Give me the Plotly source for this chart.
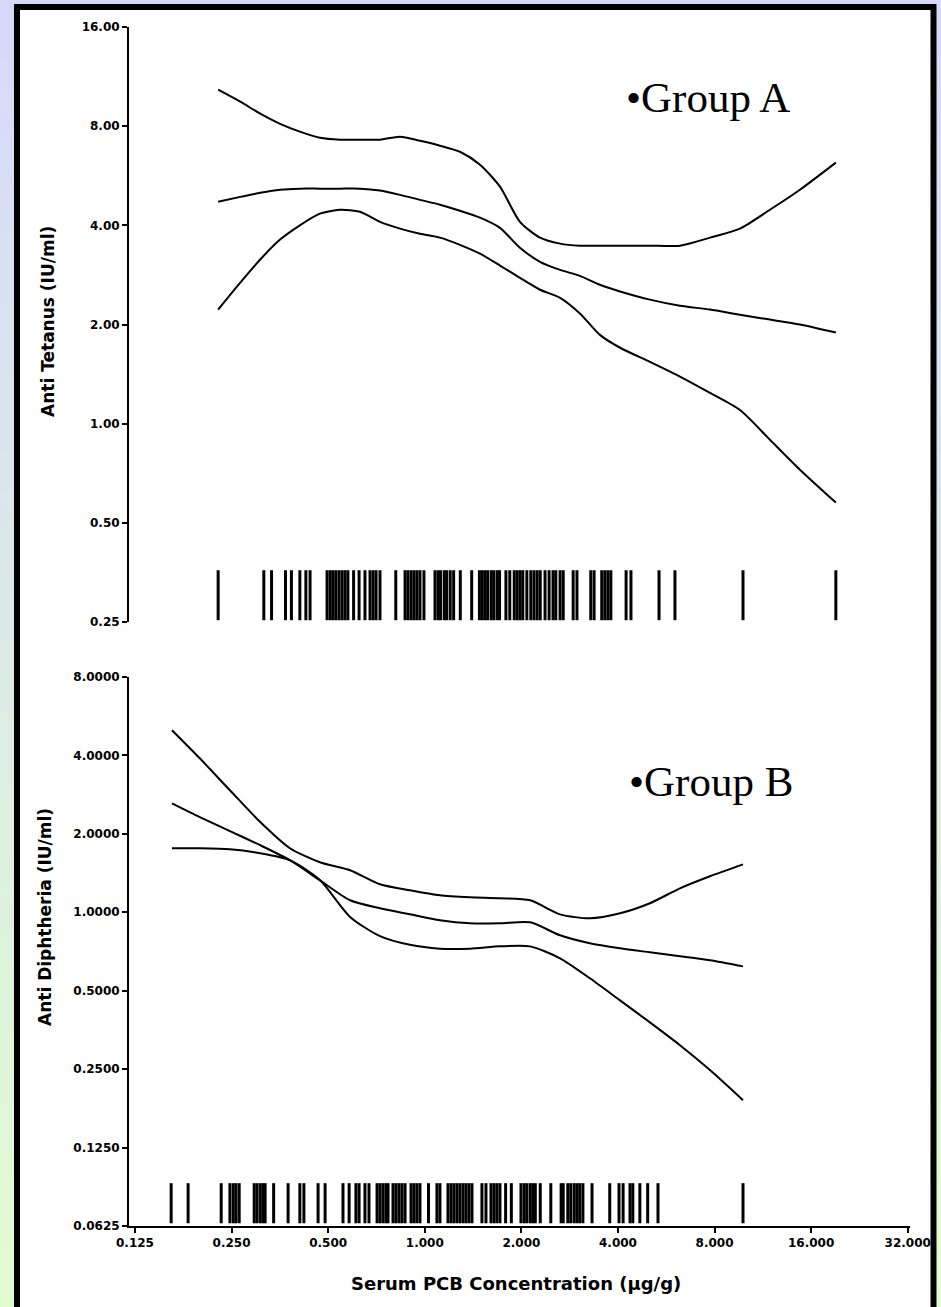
import plotly.graph_objects as go

# ---------------- data ----------------
# Group A (Anti Tetanus) smoothed curve: x = serum PCB (ug/g), y = IU/ml
xA = [0.227, 0.266, 0.307, 0.354, 0.408, 0.471, 0.544, 0.628, 0.725, 0.837, 0.966, 1.115, 1.287, 1.486,
      1.715, 1.979, 2.286, 2.640, 3.044, 3.514, 4.06, 5.03, 6.24, 7.74, 9.60, 11.90, 14.76, 19.1]
upperA = [10.32, 9.49, 8.73, 8.13, 7.70, 7.38, 7.28, 7.28, 7.28, 7.43, 7.22, 6.98, 6.69, 6.11,
          5.24, 4.10, 3.67, 3.52, 3.47, 3.47, 3.47, 3.47, 3.47, 3.67, 3.91, 4.46, 5.13, 6.20]
middleA = [4.72, 4.88, 5.02, 5.13, 5.17, 5.17, 5.17, 5.17, 5.10, 4.95, 4.78, 4.62, 4.43, 4.22,
           3.93, 3.42, 3.10, 2.93, 2.81, 2.64, 2.52, 2.38, 2.28, 2.22, 2.14, 2.07, 2.00, 1.89]
lowerA = [2.22, 2.68, 3.15, 3.62, 4.00, 4.34, 4.46, 4.40, 4.10, 3.91, 3.77, 3.67, 3.49, 3.28,
          3.02, 2.77, 2.55, 2.41, 2.16, 1.86, 1.70, 1.54, 1.39, 1.24, 1.10, 0.894, 0.725, 0.576]

# Group B (Anti Diphtheria)
xB = [0.163, 0.199, 0.247, 0.307, 0.380, 0.471, 0.585, 0.725, 0.899, 1.115, 1.383, 1.715, 2.13, 2.64,
      3.27, 4.06, 5.03, 6.24, 7.74, 9.81]
upperB = [5.00, 3.90, 2.94, 2.22, 1.761, 1.556, 1.450, 1.281, 1.215, 1.162, 1.142, 1.132, 1.112, 0.982,
          0.948, 0.991, 1.083, 1.236, 1.375, 1.528]
middleB = [2.62, 2.32, 2.05, 1.809, 1.584, 1.327, 1.112, 1.036, 0.982, 0.932, 0.907, 0.907, 0.915, 0.816,
           0.760, 0.727, 0.702, 0.678, 0.654, 0.620]
lowerB = [1.761, 1.761, 1.746, 1.685, 1.584, 1.330, 0.960, 0.810, 0.750, 0.725, 0.725, 0.740, 0.740, 0.666,
          0.558, 0.459, 0.378, 0.309, 0.248, 0.190]

# observed serum PCB values (rug)
rugA = [0.227, 0.315, 0.333, 0.368, 0.384, 0.408, 0.426, 0.439, 0.496, 0.507, 0.517, 0.528, 0.540, 0.552,
        0.564, 0.576, 0.600, 0.624, 0.651, 0.675, 0.690, 0.705, 0.725, 0.812, 0.868, 0.886, 0.906, 0.925,
        0.945, 0.966, 0.994, 1.076, 1.10, 1.12, 1.15, 1.17, 1.20, 1.23, 1.29, 1.40, 1.48, 1.51, 1.54, 1.57,
        1.61, 1.64, 1.68, 1.71, 1.79, 1.84, 1.90, 1.94, 1.98, 2.02, 2.08, 2.14, 2.19, 2.24, 2.29, 2.37,
        2.44, 2.51, 2.56, 2.64, 2.70, 2.90, 2.98, 3.29, 3.37, 3.56, 3.64, 3.72, 3.80, 4.24, 4.39, 5.37,
        6.02, 9.81, 19.1]
rugB = [0.162, 0.183, 0.232, 0.247, 0.253, 0.258, 0.264, 0.294, 0.300, 0.307, 0.313, 0.318, 0.338, 0.375,
        0.408, 0.420, 0.465, 0.489, 0.556, 0.581, 0.610, 0.624, 0.651, 0.670, 0.710, 0.725, 0.741, 0.757,
        0.768, 0.796, 0.813, 0.831, 0.849, 0.868, 0.906, 0.925, 0.945, 0.966, 1.027, 1.091, 1.115, 1.181,
        1.207, 1.233, 1.260, 1.287, 1.316, 1.344, 1.373, 1.403, 1.507, 1.551, 1.608, 1.643, 1.678, 1.715,
        1.786, 1.861, 1.994, 2.04, 2.08, 2.13, 2.17, 2.21, 2.29, 2.47, 2.66, 2.70, 2.79, 2.85, 2.92, 2.98,
        3.04, 3.11, 3.32, 3.77, 4.03, 4.15, 4.36, 4.45, 4.68, 4.95, 5.33, 9.81]

x_ticks = [0.125, 0.25, 0.5, 1, 2, 4, 8, 16, 32]
x_ticktext = ["0.125", "0.250", "0.500", "1.000", "2.000", "4.000", "8.000", "16.000", "32.000"]
yA_ticks = [0.25, 0.5, 1, 2, 4, 8, 16]
yA_ticktext = ["0.25", "0.50", "1.00", "2.00", "4.00", "8.00", "16.00"]
yB_ticks = [0.0625, 0.125, 0.25, 0.5, 1, 2, 4, 8]
yB_ticktext = ["0.0625", "0.1250", "0.2500", "0.5000", "1.0000", "2.0000", "4.0000", "8.0000"]

# ---------------- figure ----------------
W, H = 941, 1307
fig = go.Figure()

line = dict(color="black", width=2, shape="spline", smoothing=0.7)
for ys in (upperA, middleA, lowerA):
    fig.add_trace(go.Scatter(x=xA, y=ys, mode="lines", line=line, xaxis="x", yaxis="y",
                             showlegend=False, hoverinfo="skip"))
for ys in (upperB, middleB, lowerB):
    fig.add_trace(go.Scatter(x=xB, y=ys, mode="lines", line=line, xaxis="x", yaxis="y2",
                             showlegend=False, hoverinfo="skip"))

shapes = []
# background gradient (lavender -> pale green)
N = 90
top_c, bot_c = (216, 216, 250), (226, 252, 210)
for i in range(N):
    t = (i + 0.5) / N
    c = tuple(round(top_c[k] + (bot_c[k] - top_c[k]) * t) for k in range(3))
    shapes.append(dict(type="rect", xref="paper", yref="paper", x0=0, x1=1,
                       y0=1 - (i + 1) / N - 0.001, y1=1 - i / N,
                       fillcolor="rgb(%d,%d,%d)" % c, line=dict(width=0), layer="below"))
# white framed panel
shapes.append(dict(type="rect", xref="paper", yref="paper", x0=17 / W, x1=933.5 / W,
                   y0=-0.02, y1=1 - 7 / H, fillcolor="white",
                   line=dict(color="black", width=6), layer="below"))
# rug marks
for v in rugA:
    shapes.append(dict(type="line", xref="x", yref="y domain", x0=v, x1=v, y0=0.003, y1=0.087,
                       line=dict(color="black", width=3)))
for v in rugB:
    shapes.append(dict(type="line", xref="x", yref="y2 domain", x0=v, x1=v, y0=0.005, y1=0.078,
                       line=dict(color="black", width=3)))

tickfont = dict(family="DejaVu Sans", size=12, color="black", weight="bold")
ax_common = dict(type="log", showgrid=False, zeroline=False, showline=True, linecolor="black",
                 linewidth=2, ticks="outside", ticklen=5, tickwidth=2, tickcolor="black",
                 tickfont=tickfont, automargin=False)

fig.update_layout(
    template="none",
    width=W, height=H, autosize=False,
    margin=dict(l=0, r=0, t=0, b=0, pad=0, autoexpand=False),
    paper_bgcolor="white", plot_bgcolor="rgba(0,0,0,0)",
    showlegend=False,
    shapes=shapes,
    xaxis=dict(ax_common, domain=[129 / W, 910 / W], anchor="y2",
               range=[-0.9218, 1.5121], tickvals=x_ticks, ticktext=x_ticktext),
    yaxis=dict(ax_common, domain=[1 - 622 / H, 1 - 27 / H], anchor="x",
               range=[-0.60206, 1.20412], tickvals=yA_ticks, ticktext=yA_ticktext),
    yaxis2=dict(ax_common, domain=[1 - 1226 / H, 1 - 677 / H], anchor="x",
                range=[-1.20412, 0.90309], tickvals=yB_ticks, ticktext=yB_ticktext),
    annotations=[
        dict(text="•Group A", xref="paper", yref="paper", x=624 / W, y=1 - 97 / H,
             xanchor="left", yanchor="middle", showarrow=False,
             font=dict(family="Liberation Serif", size=43, color="black")),
        dict(text="•Group B", xref="paper", yref="paper", x=627 / W, y=1 - 781 / H,
             xanchor="left", yanchor="middle", showarrow=False,
             font=dict(family="Liberation Serif", size=43, color="black")),
        dict(text="Anti Tetanus (IU/ml)", xref="paper", yref="paper", x=48 / W, y=1 - 322 / H,
             textangle=-90, showarrow=False, xanchor="center", yanchor="middle",
             font=dict(family="DejaVu Sans", size=17, color="black", weight="bold")),
        dict(text="Anti Diphtheria (IU/ml)", xref="paper", yref="paper", x=45 / W, y=1 - 917 / H,
             textangle=-90, showarrow=False, xanchor="center", yanchor="middle",
             font=dict(family="DejaVu Sans", size=17, color="black", weight="bold")),
        dict(text="Serum PCB Concentration (µg/g)", xref="paper", yref="paper", x=516 / W,
             y=1 - 1283 / H, showarrow=False, xanchor="center", yanchor="middle",
             font=dict(family="DejaVu Sans", size=18, color="black", weight="bold")),
    ],
)

fig.write_html("out.html", config={"displayModeBar": False, "staticPlot": True},
               post_script="document.body.style.margin='0px';document.body.style.padding='0px';")
